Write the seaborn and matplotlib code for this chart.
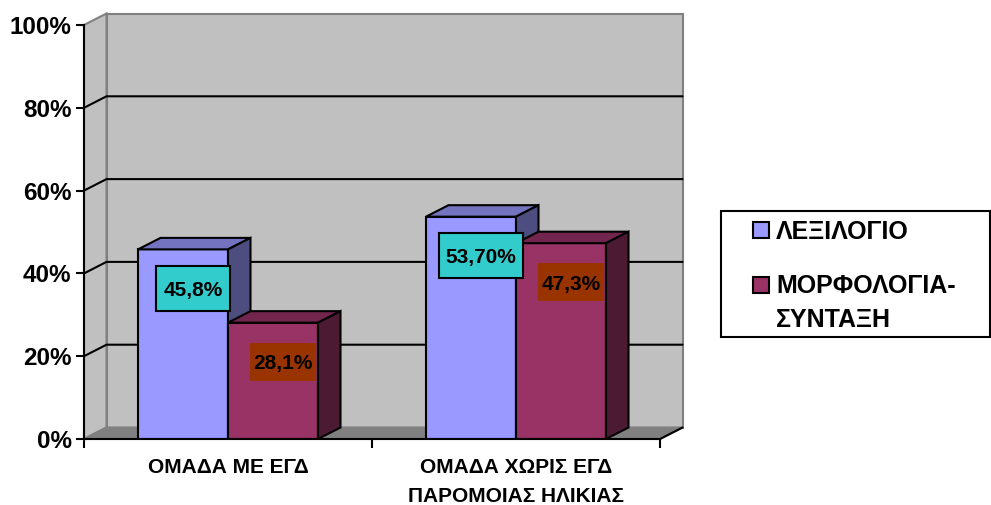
import matplotlib
matplotlib.use("Agg")
import matplotlib.pyplot as plt
from matplotlib.patches import Polygon, Rectangle
from matplotlib.transforms import IdentityTransform
import seaborn as sns
import pandas as pd

# ---- data ----
groups = ["ΟΜΑΔΑ ΜΕ ΕΓΔ", "ΟΜΑΔΑ ΧΩΡΙΣ ΕΓΔ\nΠΑΡΟΜΟΙΑΣ ΗΛΙΚΙΑΣ"]
series = ["ΛΕΞΙΛΟΓΙΟ", "ΜΟΡΦΟΛΟΓΙΑ-\nΣΥΝΤΑΞΗ"]
lexilogio = [45.8, 53.7]
morfologia = [28.1, 47.3]
lexilogio_decimals = [1, 2]
morfologia_decimals = [1, 1]
y_ticks = [0, 20, 40, 60, 80, 100]

# ---- styling ----
front_colors = ["#9999FF", "#993366"]
top_colors = ["#7373BF", "#73264D"]
side_colors = ["#4D4D80", "#4D1A33"]
label_face = ["#33CCCC", "#993300"]
label_edge = ["black", "none"]
label_hpad = [7, 3]
label_height = [45, 38]

W, H = 991, 505
sns.set_style("white")
plt.rcParams["font.family"] = ["Liberation Sans", "DejaVu Sans"]
plt.rcParams["font.weight"] = "bold"
for key in ["text.color", "axes.labelcolor", "xtick.color", "ytick.color",
            "xtick.labelcolor", "ytick.labelcolor", "axes.edgecolor"]:
    plt.rcParams[key] = "black"

df = pd.DataFrame({
    "group": groups * 2,
    "series": [series[0]] * 2 + [series[1]] * 2,
    "value": lexilogio + morfologia,
})

fig = plt.figure(figsize=(W / 100, H / 100), dpi=100)
ax = fig.add_axes([84 / W, 66 / H, 576 / W, 414 / H])
sns.barplot(data=df, x="group", y="value", hue="series", order=groups,
            hue_order=series, palette=front_colors, saturation=1,
            width=0.625, gap=0, errorbar=None, edgecolor="black",
            linewidth=1.5, legend=False, ax=ax)
bars = [p for c in ax.containers for p in c]

ax.set_xlim(-0.5, 1.5)
ax.set_ylim(0, 100)
ax.patch.set_visible(False)
ax.set_xlabel("")
ax.set_ylabel("")

# depth offset of the pseudo-3D box, in data units
DX = 22.5 * 2.0 / 576
DY = 11.5 * 100 / 414
x0, x1 = -0.5, 1.5

wall_kw = dict(clip_on=False, linewidth=1.5, edgecolor="#808080", joinstyle="miter")
ax.add_patch(Polygon([(x0 + DX, DY), (x0 + DX, 100 + DY), (x1 + DX, 100 + DY), (x1 + DX, DY)],
                     facecolor="#C0C0C0", zorder=0.5, **wall_kw))
ax.add_patch(Polygon([(x0, 0), (x0, 100), (x0 + DX, 100 + DY), (x0 + DX, DY)],
                     facecolor="#C0C0C0", zorder=0.6, **wall_kw))
ax.add_patch(Polygon([(x0, 0), (x1, 0), (x1 + DX, DY), (x0 + DX, DY)],
                     facecolor="#808080", zorder=0.7, **wall_kw))
ax.plot([x1, x1 + DX], [0, DY], color="black", lw=1.5, clip_on=False, zorder=0.8)
for v in y_ticks[1:-1]:
    ax.plot([x0, x0 + DX, x1 + DX], [v, v + DY, v + DY], color="black", lw=1.5,
            clip_on=False, zorder=0.8)

# top and side faces for each bar
bar_info = []
for k, bar in enumerate(sorted(bars, key=lambda p: p.get_x())):
    xl, w, h = bar.get_x(), bar.get_width(), bar.get_height()
    xr = xl + w
    xc = xl + w / 2
    cat = int(round(xc))
    s = 0 if xc < cat else 1
    z = 3 + k
    bar.set_zorder(z)
    ax.add_patch(Polygon([(xl, h), (xl + DX, h + DY), (xr + DX, h + DY), (xr, h)],
                         facecolor=top_colors[s], edgecolor="black", lw=1.5, zorder=z))
    ax.add_patch(Polygon([(xr, 0), (xr, h), (xr + DX, h + DY), (xr + DX, DY)],
                         facecolor=side_colors[s], edgecolor="black", lw=1.5, zorder=z))
    bar_info.append((xc, h, cat, s))

# axes, ticks
for side in ["top", "right"]:
    ax.spines[side].set_visible(False)
for side in ["left", "bottom"]:
    ax.spines[side].set_color("black")
    ax.spines[side].set_linewidth(1.5)
    ax.spines[side].set_zorder(20)

ax.set_yticks(y_ticks)
ax.set_yticklabels([f"{t}%" for t in y_ticks])
ax.tick_params(axis="y", left=True, length=6, width=1.5, direction="out",
               color="black", labelcolor="black", labelsize=17.5, pad=3)
ax.set_xticks([0, 1])
ax.set_xticklabels(groups, linespacing=1.7)
ax.set_xticks([-0.5, 0.5, 1.5], minor=True)
ax.tick_params(axis="x", which="major", length=0, labelsize=15, pad=13.5,
               labelcolor="black")
ax.tick_params(axis="x", which="minor", bottom=True, length=6.5, width=1.5,
               direction="out", color="black")

# value labels
fig.canvas.draw()
renderer = fig.canvas.get_renderer()
vals = [lexilogio, morfologia]
decs = [lexilogio_decimals, morfologia_decimals]
fs = 15
em = fs * 100 / 72
for xc, h, cat, s in bar_info:
    v = vals[s][cat]
    txt = f"{v:.{decs[s][cat]}f}".replace(".", ",") + "%"
    cx, ty = ax.transData.transform((xc, h))
    lx, ly = cx + 10, ty - 39
    t = fig.text(lx, ly - 0.358 * em, txt, transform=IdentityTransform(),
                 ha="center", va="baseline", fontsize=fs, fontweight="bold",
                 color="black", zorder=11)
    bb = t.get_window_extent(renderer)
    bw = bb.width + 2 * label_hpad[s]
    bh = label_height[s]
    fig.add_artist(Rectangle((lx - bw / 2, ly - bh / 2), bw, bh,
                             transform=IdentityTransform(), facecolor=label_face[s],
                             edgecolor=label_edge[s], lw=1.5, zorder=10))

# legend
fig.add_artist(Rectangle((721, H - 337), 269, 126, transform=IdentityTransform(),
                         facecolor="white", edgecolor="black", lw=1.5, zorder=10))
lfs = 18
lem = lfs * 100 / 72
legend_rows = [230, 284.5]
for s, yc in enumerate(legend_rows):
    fig.add_artist(Rectangle((753, H - yc - 8), 16, 16, transform=IdentityTransform(),
                             facecolor=front_colors[s], edgecolor="black", lw=1.5, zorder=11))
    lines = series[s].split("\n")
    for j, line in enumerate(lines):
        fig.text(776, H - (yc + 0.358 * lem + j * 34), line, transform=IdentityTransform(),
                 ha="left", va="baseline", fontsize=lfs, fontweight="bold",
                 color="black", zorder=11)

fig.savefig("out.png", dpi=100)
